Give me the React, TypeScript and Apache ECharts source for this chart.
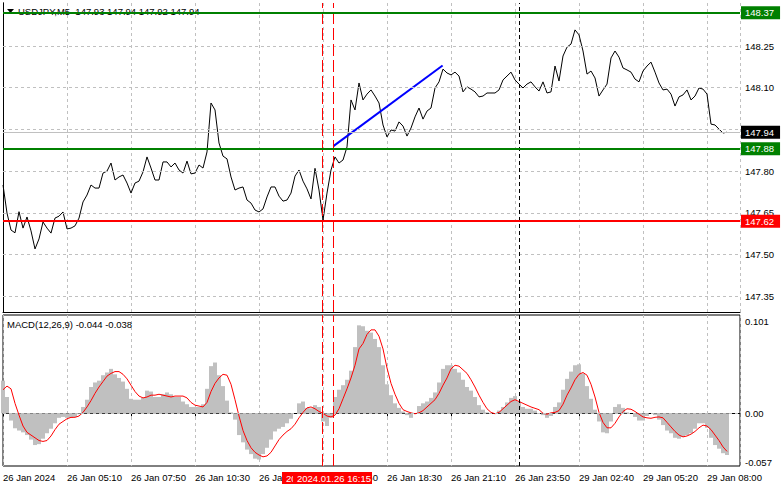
import React, { useEffect, useRef } from "react";
import * as echarts from "echarts";

// ---- data (10-minute samples of the M5 chart) ----
const xLabels = [
  "26 Jan 2024", "26 Jan 05:10", "26 Jan 07:50", "26 Jan 10:30", "26 Jan 13:10", "26 Jan 15:50",
  "26 Jan 18:30", "26 Jan 21:10", "26 Jan 23:50", "29 Jan 02:40", "29 Jan 05:20", "29 Jan 08:00",
];

const closes = [
  147.750, 147.649, 147.588, 147.578, 147.654, 147.595, 147.635, 147.585, 147.520, 147.556,
  147.617, 147.595, 147.577, 147.631, 147.638, 147.653, 147.592, 147.595, 147.603, 147.631,
  147.689, 147.714, 147.750, 147.739, 147.739, 147.793, 147.800, 147.829, 147.768, 147.779,
  147.786, 147.757, 147.721, 147.757, 147.764, 147.797, 147.851, 147.811, 147.768, 147.768,
  147.833, 147.833, 147.815, 147.829, 147.804, 147.793, 147.836, 147.790, 147.793, 147.822,
  147.811, 147.869, 148.045, 148.020, 147.901, 147.854, 147.844, 147.779, 147.732, 147.739,
  147.743, 147.696, 147.685, 147.660, 147.653, 147.664, 147.707, 147.743, 147.743, 147.710,
  147.692, 147.696, 147.721, 147.782, 147.804, 147.764, 147.736, 147.700, 147.810, 147.732,
  147.624, 147.721, 147.804, 147.851, 147.829, 147.840, 147.887, 148.056, 148.020, 148.117,
  148.056, 148.077, 148.092, 148.070, 148.045, 147.966, 147.923, 147.948, 147.944, 147.977,
  147.962, 147.926, 147.955, 147.995, 148.027, 147.987, 148.016, 148.027, 148.099, 148.121,
  148.167, 148.153, 148.146, 148.156, 148.142, 148.085, 148.103, 148.095, 148.085, 148.067,
  148.070, 148.081, 148.081, 148.081, 148.092, 148.128, 148.142, 148.156, 148.128, 148.113,
  148.099, 148.113, 148.121, 148.103, 148.088, 148.121, 148.081, 148.085, 148.178, 148.124,
  148.214, 148.246, 148.257, 148.308, 148.290, 148.232, 148.149, 148.160, 148.135, 148.070,
  148.092, 148.113, 148.207, 148.232, 148.210, 148.171, 148.164, 148.156, 148.131, 148.121,
  148.160, 148.178, 148.192, 148.156, 148.117, 148.092, 148.095, 148.077, 148.034, 148.067,
  148.074, 148.092, 148.056, 148.070, 148.099, 148.095, 148.077, 147.969, 147.966, 147.951,
  147.937, 147.940,
];

const macdHist = [
  0.036, 0.018, -0.008, -0.0165, -0.019, -0.021, -0.024, -0.029, -0.035, -0.034,
  -0.028, -0.022, -0.017, -0.011, -0.005, -0.004, -0.005, -0.005, -0.004, -0.001,
  0.007, 0.015, 0.029, 0.034, 0.036, 0.042, 0.045, 0.049, 0.043, 0.039,
  0.035, 0.027, 0.016, 0.015, 0.015, 0.017, 0.025, 0.024, 0.018, 0.018,
  0.021, 0.023, 0.021, 0.018, 0.018, 0.013, 0.010, 0.007, 0.007, 0.007,
  0.010, 0.027, 0.052, 0.056, 0.042, 0.030, 0.014, 0.001, -0.007, -0.024,
  -0.032, -0.040, -0.045, -0.050, -0.051, -0.045, -0.038, -0.029, -0.020, -0.017,
  -0.015, -0.011, -0.006, 0.000, 0.011, 0.013, 0.006, 0.0055, 0.009, 0.007,
  -0.009, -0.014, -0.005, 0.018, 0.026, 0.031, 0.037, 0.047, 0.073, 0.097,
  0.096, 0.091, 0.089, 0.082, 0.073, 0.053, 0.032, 0.020, 0.011, 0.006,
  0.002, -0.002, -0.005, 0.000, 0.008, 0.011, 0.013, 0.017, 0.023, 0.034,
  0.049, 0.053, 0.053, 0.049, 0.045, 0.037, 0.029, 0.025, 0.018, 0.009,
  0.004, 0.001, 0.000, 0.000, 0.003, 0.007, 0.012, 0.017, 0.019, 0.013,
  0.007, 0.005, 0.005, 0.003, 0.000, -0.002, -0.005, -0.003, 0.007, 0.012,
  0.026, 0.038, 0.046, 0.053, 0.054, 0.044, 0.030, 0.016, 0.004, -0.009,
  -0.021, -0.022, -0.009, 0.007, 0.010, 0.006, 0.001, 0.000, -0.004, -0.008,
  -0.008, -0.003, 0.000, -0.002, -0.007, -0.013, -0.019, -0.022, -0.027, -0.028,
  -0.026, -0.024, -0.022, -0.017, -0.011, -0.011, -0.016, -0.027, -0.035, -0.039,
  -0.044, -0.046,
];

const macdSignal = [
  0.026, 0.030, 0.027, 0.011, -0.002, -0.014, -0.021, -0.024, -0.027, -0.030,
  -0.031, -0.030, -0.025, -0.018, -0.012, -0.009, -0.006, -0.0045, -0.0044, -0.003,
  0.001, 0.007, 0.014, 0.022, 0.029, 0.035, 0.041, 0.044, 0.046, 0.046,
  0.043, 0.038, 0.031, 0.024, 0.019, 0.017, 0.018, 0.020, 0.020, 0.021,
  0.020, 0.019, 0.018, 0.019, 0.019, 0.019, 0.017, 0.012, 0.009, 0.008,
  0.007, 0.012, 0.024, 0.033, 0.039, 0.043, 0.042, 0.032, 0.015, -0.003,
  -0.019, -0.030, -0.038, -0.043, -0.046, -0.048, -0.047, -0.043, -0.036, -0.029,
  -0.024, -0.020, -0.017, -0.012, -0.005, 0.001, 0.006, 0.007, 0.005, 0.002,
  0.000, -0.003, -0.004, -0.002, 0.005, 0.016, 0.027, 0.039, 0.053, 0.071,
  0.077, 0.087, 0.092, 0.092, 0.085, 0.071, 0.050, 0.033, 0.021, 0.011,
  0.004, 0.002, 0.0005, -0.0005, 0.0005, 0.003, 0.007, 0.011, 0.015, 0.022,
  0.031, 0.039, 0.049, 0.053, 0.052, 0.048, 0.044, 0.037, 0.029, 0.020,
  0.012, 0.005, 0.001, -0.0005, 0.001, 0.005, 0.009, 0.013, 0.015, 0.013,
  0.011, 0.009, 0.007, 0.0055, 0.004, 0.000, -0.001, 0.0005, 0.001, 0.003,
  0.010, 0.020, 0.028, 0.037, 0.043, 0.045, 0.042, 0.032, 0.018, 0.001,
  -0.010, -0.016, -0.016, -0.011, -0.004, 0.002, 0.005, 0.0045, 0.002, -0.001,
  -0.004, -0.005, -0.0055, -0.0044, -0.004, -0.005, -0.010, -0.015, -0.020, -0.024,
  -0.026, -0.025, -0.023, -0.020, -0.016, -0.013, -0.014, -0.018, -0.024, -0.030,
  -0.037, -0.042,
];

const trendLine = [
  [82.6, 147.89],
  [109.9, 148.18],
];

const priceTicks = [148.25, 148.1, 147.95, 147.8, 147.65, 147.5, 147.35];
const priceLevels = [
  { value: 148.37, color: "#008000" },
  { value: 147.88, color: "#008000" },
  { value: 147.62, color: "#ff0000" },
];
const lastPrice = 147.94;
const macdTicks = [0.101, 0, -0.057];
const markerTimes = [79.7, 82.6];
const separatorTime = 129.1;
const markerLabels = ["2024.01.26 15:45", "2024.01.26 16:15"];
const headerText = "USDJPY,M5  147.93 147.94 147.92 147.94";
const macdHeader = "MACD(12,26,9) -0.044 -0.038";

// ---- layout ----
const FONT = '"Liberation Sans", Arial, sans-serif';
const FS = 9.5;
const X_MAX = 184.25;
const PRICE_MIN = 147.2932;
const PRICE_MAX = 148.4047;
const MACD_MIN = -0.0581;
const MACD_MAX = 0.1084;
const GRID_COLOR = "#c0c0c0";

export default function App() {
  const ref = useRef<HTMLDivElement>(null);

  useEffect(() => {
    if (!ref.current) return;
    const chart = echarts.init(ref.current, undefined, { renderer: "svg" });

    const gridLineStyle = { color: GRID_COLOR, type: [3, 3] as any, width: 1 };
    const plainLabel = (text: string) => ({
      show: true,
      position: "end",
      distance: 5,
      formatter: text,
      color: "#000",
      fontFamily: FONT,
      fontSize: FS,
    });
    const boxLabel = (text: string, bg: string) => ({
      show: true,
      position: "end",
      distance: 1,
      formatter: text,
      color: "#fff",
      fontFamily: FONT,
      fontSize: FS,
      lineHeight: 10,
      backgroundColor: bg,
      padding: [2, 6, 1, 4],
    });
    const vLines = [
      ...markerTimes.map((t) => ({
        xAxis: t,
        lineStyle: { color: "#ff0000", type: [12, 4] as any, width: 1 },
        label: { show: false },
      })),
      {
        xAxis: separatorTime,
        lineStyle: { color: "#000", type: [4, 3] as any, width: 1 },
        label: { show: false },
      },
    ];

    const baseGraphics: any[] = [
      {
        id: "tri", type: "polygon", z: 1,
        shape: { points: [[7, 9], [14, 9], [10.5, 13]] },
        style: { fill: "#000" },
      },
      {
        id: "hdr", type: "text", z: 1, x: 18, y: 11,
        style: { text: headerText, fill: "#000", font: `${FS}px ${FONT}`, verticalAlign: "middle" },
      },
      {
        id: "macdHdr", type: "text", z: 10, x: 7, y: 324,
        style: { text: macdHeader, fill: "#000", font: `${FS}px ${FONT}`, verticalAlign: "middle" },
      },
      {
        id: "boxA", type: "rect", z: 100, shape: { x: 282, y: 472, width: 80, height: 12 },
        style: { fill: "#ff0000" },
      },
      {
        id: "txtA", type: "text", z: 101, x: 286, y: 478,
        style: { text: markerLabels[0], fill: "#fff", font: `${FS}px ${FONT}`, verticalAlign: "middle" },
      },
      {
        id: "boxB", type: "rect", z: 102, shape: { x: 293, y: 472, width: 79, height: 12 },
        style: { fill: "#ff0000" },
      },
      {
        id: "txtB", type: "text", z: 103, x: 297, y: 478,
        style: { text: markerLabels[1], fill: "#fff", font: `${FS}px ${FONT}`, verticalAlign: "middle" },
      },
    ];

    const option: any = {
      animation: false,
      backgroundColor: "#fff",
      textStyle: { fontFamily: FONT },
      grid: [
        { left: 3, top: 3, width: 737, height: 309 },
        {
          left: 3, top: 315, width: 737, height: 151,
          show: true, borderColor: "#000", borderWidth: 1, backgroundColor: "transparent",
        },
      ],
      xAxis: [
        {
          gridIndex: 0, type: "value", min: 0, max: X_MAX, interval: 16,
          axisLine: { show: true, lineStyle: { color: "#000", width: 1 } },
          axisTick: { show: false }, axisLabel: { show: false },
          splitLine: { show: true, lineStyle: gridLineStyle },
        },
        {
          gridIndex: 1, type: "value", min: 0, max: X_MAX, interval: 16,
          axisLine: { show: true, lineStyle: { color: "#000", width: 1 } },
          axisTick: { show: true, length: 3, lineStyle: { color: "#000" } },
          axisLabel: {
            show: true, align: "left", margin: 6, color: "#000",
            fontFamily: FONT, fontSize: FS, showMaxLabel: false,
            formatter: (v: number) => xLabels[Math.round(v / 16)] ?? "",
          },
          splitLine: { show: true, lineStyle: gridLineStyle },
        },
      ],
      yAxis: [
        {
          gridIndex: 0, type: "value", position: "right", min: PRICE_MIN, max: PRICE_MAX,
          axisLine: { show: true, lineStyle: { color: "#000" } },
          axisTick: { show: false }, axisLabel: { show: false }, splitLine: { show: false },
        },
        {
          gridIndex: 0, type: "value", position: "left", min: PRICE_MIN, max: PRICE_MAX,
          axisLine: { show: true, lineStyle: { color: "#000" } },
          axisTick: { show: false }, axisLabel: { show: false }, splitLine: { show: false },
        },
        {
          gridIndex: 1, type: "value", position: "right", min: MACD_MIN, max: MACD_MAX,
          axisLine: { show: false },
          axisTick: { show: false }, axisLabel: { show: false }, splitLine: { show: false },
        },
      ],
      series: [
        {
          type: "line", name: "price", xAxisIndex: 0, yAxisIndex: 0, z: 2,
          data: closes.map((v, i) => [i, v]),
          symbol: "none", lineStyle: { color: "#000", width: 1 },
          markLine: {
            silent: true, symbol: ["none", "none"], animation: false,
            data: [
              ...priceTicks.map((v) => ({
                yAxis: v,
                lineStyle: gridLineStyle,
                label: Math.abs(v - 147.95) < 1e-6 ? { show: false } : plainLabel(v.toFixed(2)),
              })),
              {
                yAxis: lastPrice,
                lineStyle: { color: GRID_COLOR, type: "solid", width: 1 },
                label: boxLabel(lastPrice.toFixed(2), "#000"),
              },
              ...vLines,
            ],
          },
        },
        {
          type: "line", name: "trend", xAxisIndex: 0, yAxisIndex: 0, z: 4,
          data: trendLine, symbol: "none",
          lineStyle: { color: "#0000ff", width: 2 },
          markLine: {
            silent: true, symbol: ["none", "none"], animation: false,
            data: priceLevels.map((l) => ({
              yAxis: l.value,
              lineStyle: { color: l.color, type: "solid", width: 2 },
              label: boxLabel(l.value.toFixed(2), l.color),
            })),
          },
        },
        {
          type: "bar", name: "MACD", xAxisIndex: 1, yAxisIndex: 2, z: 2,
          data: macdHist.map((v, i) => [i, v]),
          barWidth: 4, itemStyle: { color: "#c0c0c0" },
        },
        {
          type: "line", name: "Signal", xAxisIndex: 1, yAxisIndex: 2, z: 3,
          data: macdSignal.map((v, i) => [i, v]),
          symbol: "none", lineStyle: { color: "#ff0000", width: 1 },
          markLine: {
            silent: true, symbol: ["none", "none"], animation: false,
            data: [
              { yAxis: 0, lineStyle: gridLineStyle, label: { show: false } },
              ...vLines,
            ],
          },
        },
      ],
      graphic: baseGraphics,
    };

    chart.setOption(option);

    // MACD scale labels placed through the MACD y-axis scale
    const macdLabelGraphics = macdTicks.map((v, i) => {
      const y = chart.convertToPixel({ yAxisIndex: 2 }, v) as number;
      return {
        id: "macdTick" + i, type: "text", z: 20, x: 745,
        y: Math.min(y, 462),
        style: {
          text: v === 0 ? "0.00" : v.toFixed(3),
          fill: "#000", font: `${FS}px ${FONT}`, verticalAlign: "middle",
        },
      };
    });
    chart.setOption({ graphic: [...baseGraphics, ...macdLabelGraphics] });

    return () => chart.dispose();
  }, []);

  return (
    <div
      ref={ref}
      style={{ position: "fixed", left: 0, top: 0, width: 781, height: 489, background: "#fff" }}
    />
  );
}
